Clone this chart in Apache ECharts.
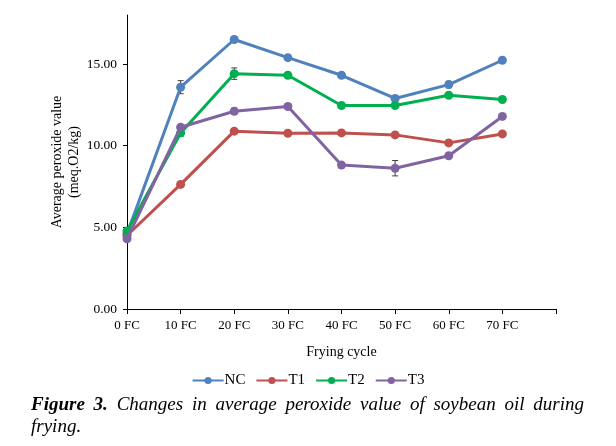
<!DOCTYPE html>
<html><head><meta charset="utf-8">
<script src="https://cdn.jsdelivr.net/npm/echarts@6/dist/echarts.min.js"></script>
<style>
body{margin:0;background:#fff;}
#c{position:absolute;left:0;top:0;width:616px;height:446px;}
#cap{position:absolute;left:31px;top:393px;width:553px;font-family:"Liberation Serif",serif;font-style:italic;font-size:19px;line-height:22px;text-align:justify;color:#000;}
</style></head><body>
<div id="c"></div>
<div id="cap"><b>Figure 3.</b> Changes in average peroxide value of soybean oil during frying.</div>
<script>
const categories = ['0 FC','10 FC','20 FC','30 FC','40 FC','50 FC','60 FC','70 FC',''];
const seriesNames = ['NC','T1','T2','T3'];
const NC = [4.6, 13.58, 16.5, 15.39, 14.31, 12.89, 13.74, 15.23];
const T1 = [4.5, 7.63, 10.89, 10.76, 10.78, 10.66, 10.17, 10.72];
const T2 = [4.77, 10.78, 14.41, 14.31, 12.46, 12.46, 13.09, 12.83];
const T3 = [4.3, 11.13, 12.11, 12.4, 8.81, 8.62, 9.38, 11.79];
const NC_err = [0.1, 0.4, 0.12, 0.08, 0.08, 0.1, 0.2, 0.08];
const T1_err = [0.08, 0.08, 0.1, 0.08, 0.08, 0.08, 0.1, 0.08];
const T2_err = [0.1, 0.2, 0.35, 0.08, 0.08, 0.1, 0.1, 0.08];
const T3_err = [0.1, 0.1, 0.18, 0.08, 0.15, 0.47, 0.1, 0.08];
const colors = ['#4F81BD','#C0504D','#00B050','#8064A2'];
const values = [NC, T1, T2, T3];
const errs = [NC_err, T1_err, T2_err, T3_err];

const font = '"Liberation Serif", "Times New Roman", serif';
const chart = echarts.init(document.getElementById('c'));
const series = [];
values.forEach((v, i) => {
  series.push({
    type: 'custom', z: 1 + i * 2,
    data: v.map((y, k) => [k, y - errs[i][k], y + errs[i][k]]),
    renderItem: function (params, api) {
      const lo = api.coord([api.value(0), api.value(1)]);
      const hi = api.coord([api.value(0), api.value(2)]);
      const w = 3;
      const st = {stroke: '#404040', lineWidth: 1};
      return {type: 'group', children: [
        {type: 'line', shape: {x1: lo[0], y1: lo[1], x2: hi[0], y2: hi[1]}, style: st},
        {type: 'line', shape: {x1: lo[0]-w, y1: lo[1], x2: lo[0]+w, y2: lo[1]}, style: st},
        {type: 'line', shape: {x1: hi[0]-w, y1: hi[1], x2: hi[0]+w, y2: hi[1]}, style: st}
      ]};
    },
    silent: true, tooltip: {show: false}
  });
  series.push({
    name: seriesNames[i], type: 'line', data: v, symbol: 'circle', symbolSize: 9,
    lineStyle: {width: 3, color: colors[i]}, itemStyle: {color: colors[i]},
    z: 2 + i * 2
  });
});

chart.setOption({
  animation: false,
  color: colors,
  textStyle: {fontFamily: font},
  grid: {left: 127, right: 60, top: 15, bottom: 137},
  legend: {
    data: seriesNames, top: 368, left: 'center', itemWidth: 31, itemHeight: 9, itemGap: 10,
    textStyle: {fontFamily: font, fontSize: 15, color: '#000', padding: [0, 0, 0, -4]}
  },
  xAxis: {
    type: 'category', data: categories, boundaryGap: false,
    name: 'Frying cycle', nameLocation: 'middle', nameGap: 36,
    nameTextStyle: {fontFamily: font, fontSize: 14, color: '#000'},
    axisLine: {lineStyle: {color: '#000', width: 1}},
    axisTick: {show: true, alignWithLabel: true, length: 5, lineStyle: {color: '#000'}},
    axisLabel: {fontFamily: font, fontSize: 13, color: '#000', margin: 10, interval: 0},
    splitLine: {show: false}
  },
  yAxis: {
    type: 'value', min: 0, max: 18, interval: 5,
    name: 'Average peroxide value\n(meq.O2/kg)', nameLocation: 'middle', nameGap: 44, nameRotate: 90,
    nameMoveOverlap: false,
    nameTextStyle: {fontFamily: font, fontSize: 14, color: '#000', lineHeight: 17},
    axisLine: {show: true, lineStyle: {color: '#000', width: 1}},
    axisTick: {show: true, length: 4, lineStyle: {color: '#000'}},
    axisLabel: {fontFamily: font, fontSize: 13.5, color: '#000', margin: 10, showMaxLabel: false,
      formatter: v => v.toFixed(2)},
    splitLine: {show: false}
  },
  series: series
});
</script>
</body></html>
